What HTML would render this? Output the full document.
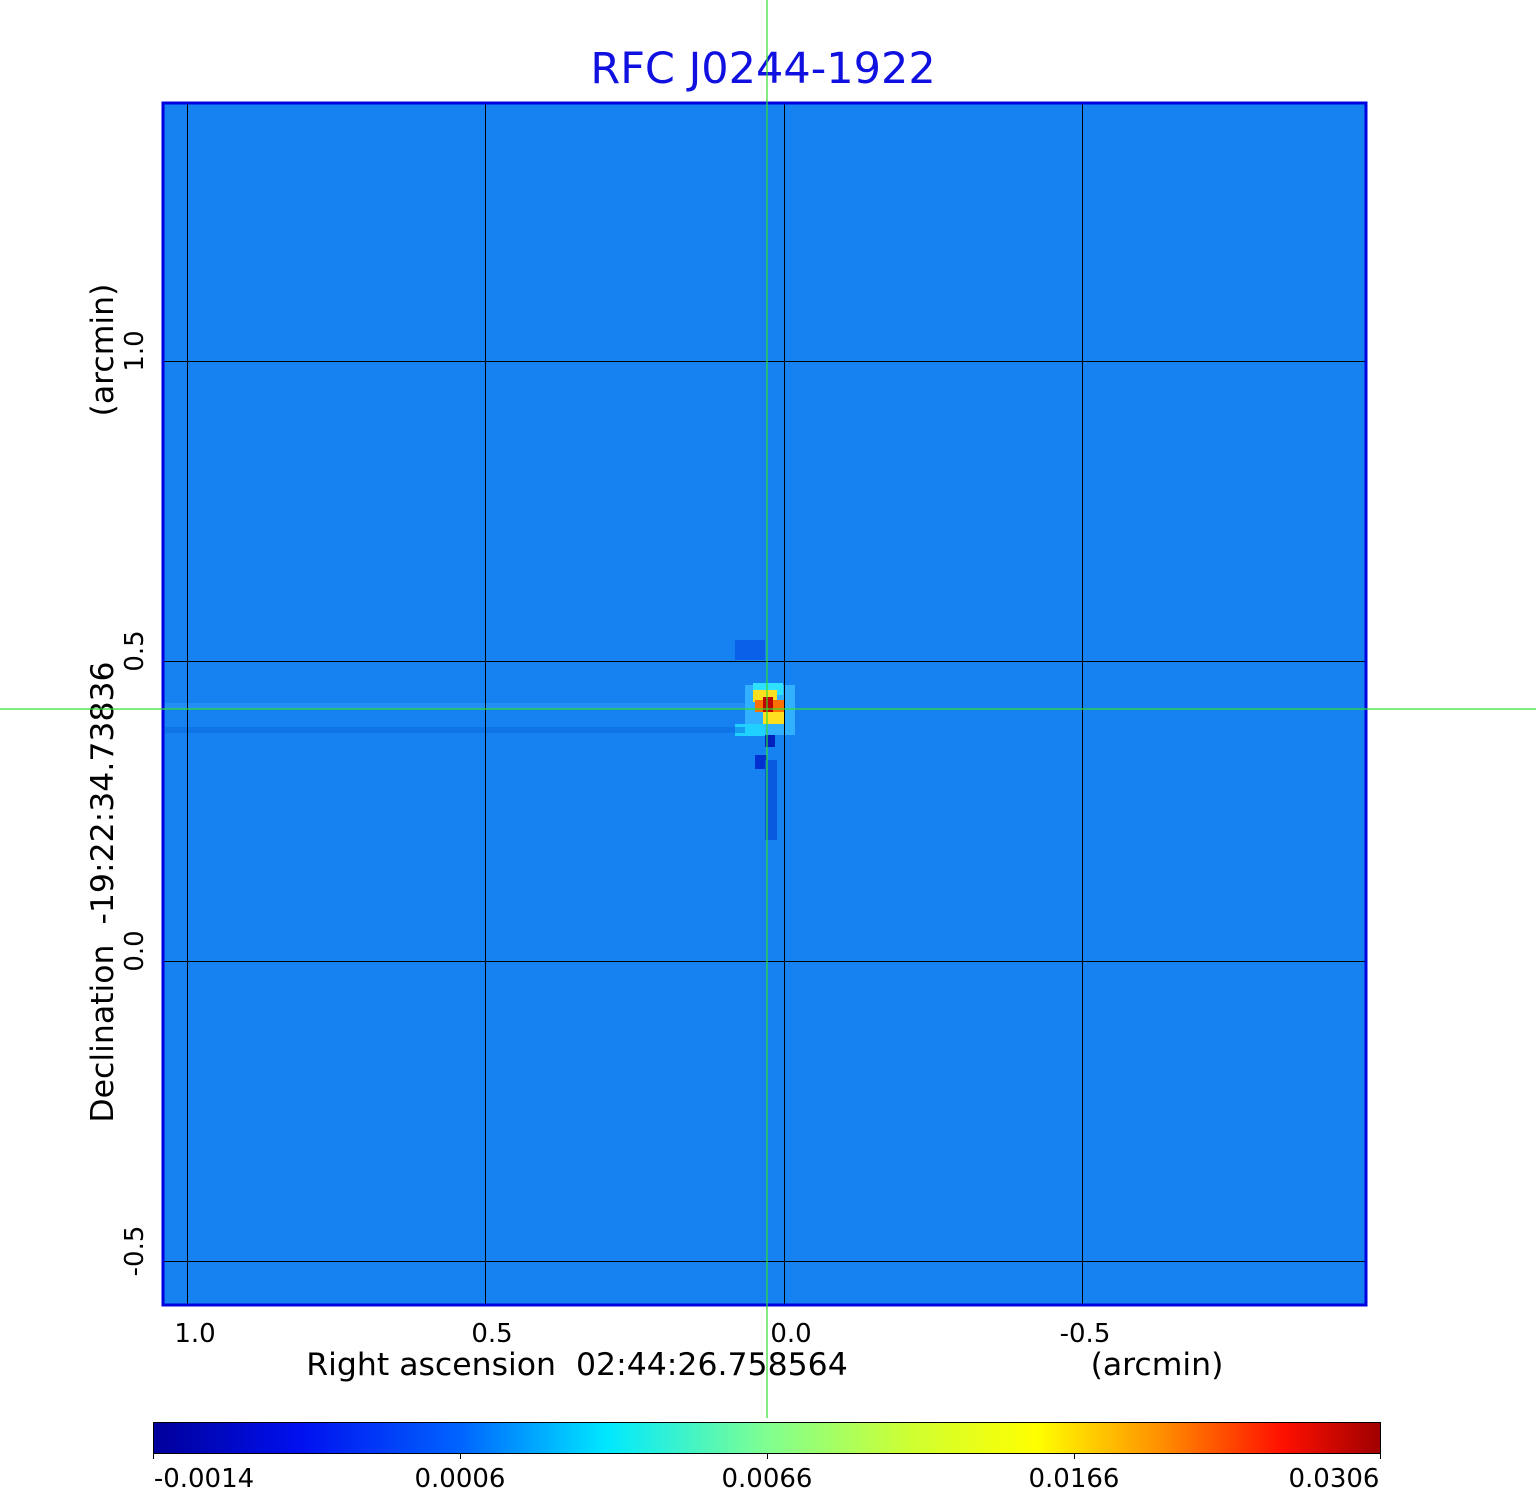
<!DOCTYPE html>
<html><head><meta charset="utf-8"><style>
html,body{margin:0;padding:0;background:#fff;}
svg{display:block;font-family:"DejaVu Sans","Liberation Sans",sans-serif;}
text{white-space:pre;}
</style></head><body>
<svg width="1536" height="1511" viewBox="0 0 1536 1511" xmlns="http://www.w3.org/2000/svg" xml:space="preserve">
<defs>
<linearGradient id="jet" x1="0" x2="1" y1="0" y2="0">
<stop offset="0" stop-color="#00009a"/>
<stop offset="0.12" stop-color="#0010f0"/>
<stop offset="0.25" stop-color="#0064ff"/>
<stop offset="0.37" stop-color="#00e8ff"/>
<stop offset="0.5" stop-color="#80ff90"/>
<stop offset="0.62" stop-color="#d0ff30"/>
<stop offset="0.72" stop-color="#ffff00"/>
<stop offset="0.82" stop-color="#ff9000"/>
<stop offset="0.92" stop-color="#ff1000"/>
<stop offset="1" stop-color="#a00000"/>
</linearGradient>
</defs>
<text x="763" y="83" font-size="43" fill="#1010e0" text-anchor="middle">RFC J0244-1922</text>
<rect x="163" y="103" width="1203" height="1202" fill="#1682f2"/>
<g>
<rect x="745" y="685" width="50" height="50" fill="#30b0ff"/>
<rect x="753" y="683" width="30" height="12" fill="#30e0ff"/>
<rect x="753" y="690" width="24" height="12" fill="#ffe020"/>
<rect x="755" y="700" width="30" height="12" fill="#ff7000"/>
<rect x="763" y="697" width="10" height="22" fill="#c00000"/>
<rect x="763" y="712" width="22" height="12" fill="#ffe020"/>
<rect x="735" y="724" width="30" height="12" fill="#20d0ff"/>
<rect x="765" y="735" width="10" height="12" fill="#0020c0"/>
<rect x="755" y="755" width="12" height="14" fill="#0030d0"/>
<rect x="765" y="760" width="12" height="80" fill="#0a5ae0"/>
<rect x="735" y="640" width="30" height="20" fill="#0a60e8"/>
<rect x="165" y="703" width="580" height="6" fill="#2a98f8" opacity="0.6"/>
<rect x="165" y="727" width="580" height="6" fill="#0a66e0" opacity="0.5"/>
</g>
<g stroke="#000" stroke-width="1">
<line x1="187.5" y1="103" x2="187.5" y2="1305"/>
<line x1="485.5" y1="103" x2="485.5" y2="1305"/>
<line x1="784.5" y1="103" x2="784.5" y2="1305"/>
<line x1="1082.5" y1="103" x2="1082.5" y2="1305"/>
<line x1="163" y1="361.5" x2="1366" y2="361.5"/>
<line x1="163" y1="661.5" x2="1366" y2="661.5"/>
<line x1="163" y1="961.5" x2="1366" y2="961.5"/>
<line x1="163" y1="1261.5" x2="1366" y2="1261.5"/>
</g>
<rect x="163" y="103" width="1203" height="1202" fill="none" stroke="#0000e0" stroke-width="3"/>
<g font-size="26" fill="#000" text-anchor="middle">
<text x="195" y="1342">1.0</text>
<text x="492" y="1342">0.5</text>
<text x="791" y="1342">0.0</text>
<text x="1085" y="1342">-0.5</text>
</g>
<text x="577" y="1375" font-size="31.5" text-anchor="middle">Right ascension  02:44:26.758564</text>
<text x="1157" y="1375" font-size="31.5" text-anchor="middle">(arcmin)</text>
<g font-size="26" text-anchor="middle">
<text transform="translate(143,351) rotate(-90)">1.0</text>
<text transform="translate(143,651) rotate(-90)">0.5</text>
<text transform="translate(143,951) rotate(-90)">0.0</text>
<text transform="translate(143,1251) rotate(-90)">-0.5</text>
</g>
<text transform="translate(113,892) rotate(-90)" font-size="31.5" text-anchor="middle">Declination  -19:22:34.73836</text>
<text transform="translate(113,350) rotate(-90)" font-size="31.5" text-anchor="middle">(arcmin)</text>
<line x1="767" y1="0" x2="767" y2="1418" stroke="#30e030" stroke-width="1.2"/>
<line x1="0" y1="709" x2="1536" y2="709" stroke="#30e030" stroke-width="1.2"/>
<rect x="153.5" y="1422.5" width="1227" height="31" fill="url(#jet)" stroke="#000" stroke-width="1"/>
<g stroke="#000">
<line x1="153.5" y1="1453" x2="153.5" y2="1459"/>
<line x1="460.5" y1="1453" x2="460.5" y2="1459"/>
<line x1="767.5" y1="1453" x2="767.5" y2="1459"/>
<line x1="1074.5" y1="1453" x2="1074.5" y2="1459"/>
<line x1="1380.5" y1="1453" x2="1380.5" y2="1459"/>
</g>
<g font-size="26" text-anchor="middle">
<text x="204" y="1487">-0.0014</text>
<text x="460" y="1487">0.0006</text>
<text x="767" y="1487">0.0066</text>
<text x="1074" y="1487">0.0166</text>
<text x="1334" y="1487">0.0306</text>
</g>
</svg>
</body></html>
